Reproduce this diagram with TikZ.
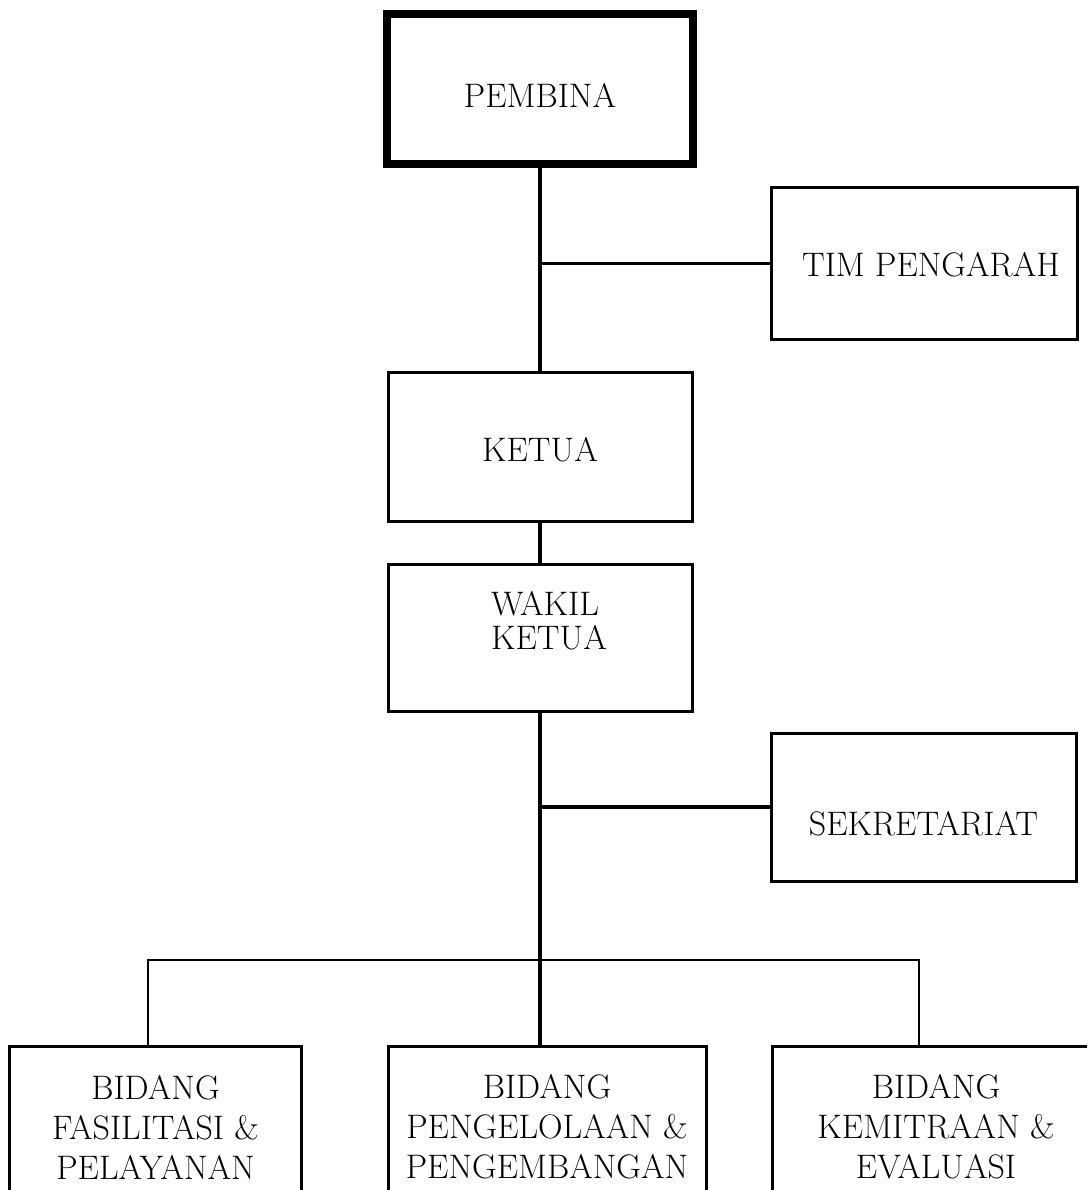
\documentclass[tikz,border=0pt]{standalone}
\usetikzlibrary{calc}
\begin{document}
\begin{tikzpicture}[x=0.5bp,y=-0.5bp,
  box/.style={draw, line width=1.5bp, inner sep=0pt, align=center,
    font=\fontsize{17bp}{20bp}\selectfont},
  conn/.style={line width=1.6bp},
  busline/.style={line width=1.1bp}]
\useasboundingbox (0,0) rectangle (1087,1190);
\clip (0,0) rectangle (1087,1190);

\node[box, line width=4bp, minimum width=153bp, minimum height=75bp,
  text height=18.5bp, text depth=0pt] (pembina) at (540,89) {PEMBINA};
\node[box, minimum width=153bp, minimum height=75.5bp,
  text height=13bp, text depth=0pt] (tim) at (924,263.5) {\hspace*{7bp}TIM PENGARAH};
\node[box, minimum width=152bp, minimum height=74bp,
  text height=14.5bp, text depth=0pt] (ketua) at (540,447) {KETUA};
\node[box, minimum width=152bp, minimum height=73.5bp,
  text height=0pt, text depth=22bp] (wakil) at (540,637.5)
  {\hspace*{9bp}{\fontsize{17bp}{16bp}\selectfont\begin{tabular}[t]{@{}l@{}}WAKIL\\KETUA\end{tabular}}};
\node[box, minimum width=152.5bp, minimum height=74bp,
  text height=28.5bp, text depth=0pt] (sek) at (923.5,807) {SEKRETARIAT};

\node[box, minimum width=145.5bp, minimum height=81bp] (b1) at (155.5,1127)
  {BIDANG\\FASILITASI \&\\PELAYANAN};
\node[box, minimum width=159bp, minimum height=81bp] (b2) at (547,1127)
  {BIDANG\\PENGELOLAAN \&\\PENGEMBANGAN};
\node[box, minimum width=164bp, minimum height=81bp] (b3) at (936,1127)
  {BIDANG\\KEMITRAAN \&\\EVALUASI};

\draw[conn] (pembina.south) -- (ketua.north);
\draw[conn] (pembina.south |- tim.west) -- (tim.west);
\draw[conn] (ketua.south) -- (wakil.north);
\draw[conn] (wakil.south) -- (wakil.south |- b2.north);
\draw[conn] (wakil.south |- sek.west) -- (sek.west);
\coordinate (bus) at (540,960);
\draw[busline] ([xshift=-3.75bp]b1.north) |- (bus) -| ([xshift=-8.5bp]b3.north);
\end{tikzpicture}
\end{document}
